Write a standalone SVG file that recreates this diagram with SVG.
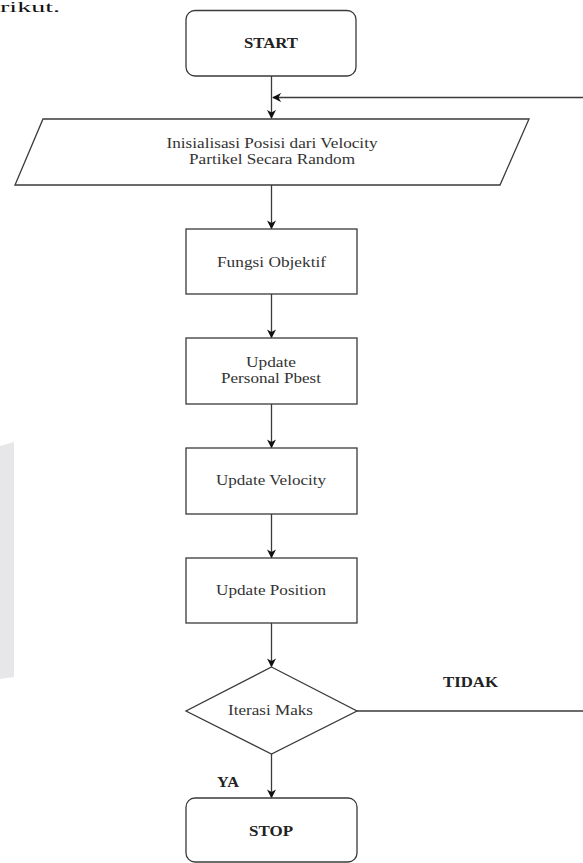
<svg xmlns="http://www.w3.org/2000/svg" width="583" height="863" viewBox="0 0 583 863">
  <style>
    .shape { fill: #ffffff; stroke: #3a3a3a; stroke-width: 1.3; }
    .line { fill: none; stroke: #3a3a3a; stroke-width: 1.3; }
    .txt { font-family: "Liberation Serif", "Times New Roman", serif; font-size: 14px; fill: #333333; text-anchor: middle; }
    .bold { font-family: "Liberation Serif", "Times New Roman", serif; font-size: 14px; font-weight: bold; fill: #222222; }
  </style>
  <defs>
    <marker id="arrow" viewBox="0 0 10 10" refX="9" refY="5" markerWidth="9" markerHeight="9" markerUnits="userSpaceOnUse" orient="auto">
      <path d="M0,0 L10,5 L0,10 L3,5 z" fill="#111111"/>
    </marker>
  </defs>
  <rect width="583" height="863" fill="#ffffff"/>
  <polygon points="0,446 14,442 14,677 0,679" fill="#e7e7e9"/>
  <text x="0" y="12" font-family="Liberation Serif, serif" font-size="15" fill="#111111" textLength="60" lengthAdjust="spacingAndGlyphs">rikut.</text>

  <g id="connectors">
    <line class="line" x1="271.5" y1="76" x2="271.5" y2="118" marker-end="url(#arrow)"/>
    <line class="line" x1="583" y1="97.5" x2="273" y2="97.5" marker-end="url(#arrow)"/>
    <line class="line" x1="271.5" y1="185" x2="271.5" y2="228.5" marker-end="url(#arrow)"/>
    <line class="line" x1="271.5" y1="294" x2="271.5" y2="337.5" marker-end="url(#arrow)"/>
    <line class="line" x1="271.5" y1="404" x2="271.5" y2="447.5" marker-end="url(#arrow)"/>
    <line class="line" x1="271.5" y1="514" x2="271.5" y2="557.5" marker-end="url(#arrow)"/>
    <line class="line" x1="271.5" y1="623" x2="271.5" y2="666.5" marker-end="url(#arrow)"/>
    <line class="line" x1="271.5" y1="754" x2="271.5" y2="797.5" marker-end="url(#arrow)"/>
    <line class="line" x1="357" y1="711" x2="583" y2="711"/>
    <text class="bold" x="443" y="687" textLength="55" lengthAdjust="spacingAndGlyphs">TIDAK</text>
    <text class="bold" x="217" y="787" textLength="22" lengthAdjust="spacingAndGlyphs">YA</text>
  </g>

  <g id="start">
    <rect class="shape" x="186" y="10.5" width="170" height="65.5" rx="9"/>
    <text class="bold" x="271" y="47.5" text-anchor="middle" textLength="54" lengthAdjust="spacingAndGlyphs">START</text>
  </g>

  <g id="init">
    <polygon class="shape" points="43,119 529,119 500,185 15,185"/>
    <text class="txt" x="272" y="148" textLength="211" lengthAdjust="spacingAndGlyphs">Inisialisasi Posisi dari Velocity</text>
    <text class="txt" x="272" y="164" textLength="166" lengthAdjust="spacingAndGlyphs">Partikel Secara Random</text>
  </g>

  <g id="fungsi">
    <rect class="shape" x="186" y="229" width="171" height="65"/>
    <text class="txt" x="271.5" y="266.5" textLength="109" lengthAdjust="spacingAndGlyphs">Fungsi Objektif</text>
  </g>

  <g id="pbest">
    <rect class="shape" x="186" y="338" width="171" height="66"/>
    <text class="txt" x="271" y="367" textLength="50" lengthAdjust="spacingAndGlyphs">Update</text>
    <text class="txt" x="271" y="383" textLength="100" lengthAdjust="spacingAndGlyphs">Personal Pbest</text>
  </g>

  <g id="velocity">
    <rect class="shape" x="186" y="448" width="171" height="66"/>
    <text class="txt" x="271" y="485" textLength="110" lengthAdjust="spacingAndGlyphs">Update Velocity</text>
  </g>

  <g id="position">
    <rect class="shape" x="186" y="558" width="171" height="65"/>
    <text class="txt" x="271" y="595" textLength="110" lengthAdjust="spacingAndGlyphs">Update Position</text>
  </g>

  <g id="iterasi">
    <polygon class="shape" points="271.5,667 357,711 271.5,754 186,711"/>
    <text class="txt" x="270.5" y="715" textLength="85" lengthAdjust="spacingAndGlyphs">Iterasi Maks</text>
  </g>

  <g id="stop">
    <rect class="shape" x="186" y="798" width="171" height="64" rx="9"/>
    <text class="bold" x="271" y="836" text-anchor="middle" textLength="44" lengthAdjust="spacingAndGlyphs">STOP</text>
  </g>
</svg>
